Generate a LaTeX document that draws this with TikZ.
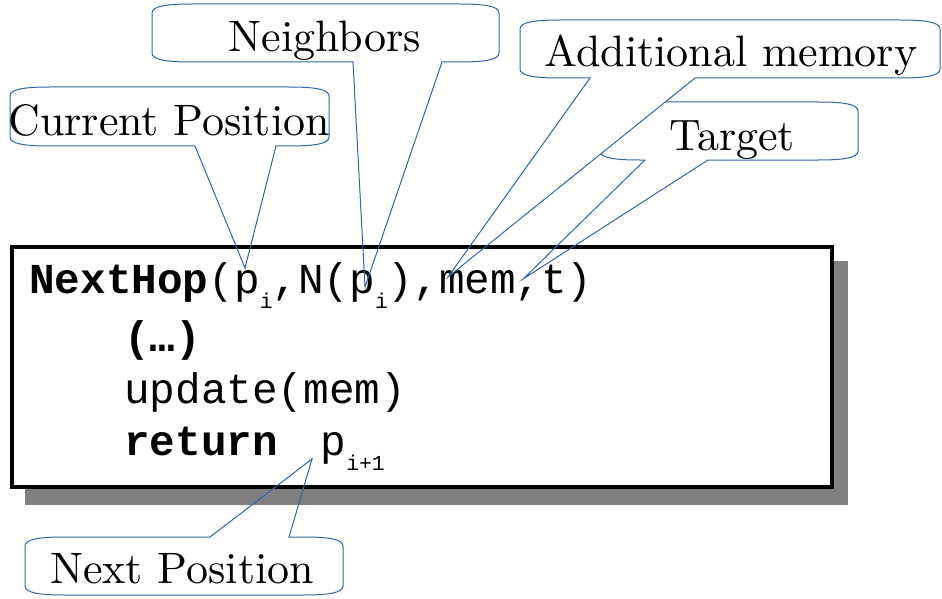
\documentclass[tikz,border=0pt]{standalone}
\usepackage{fontspec}
\setmonofont{Liberation Mono}
\newfontfamily\labelfont{lmroman10-regular.otf}
\definecolor{calloutblue}{RGB}{52,101,164}
\newcommand{\codesub}[1]{\raisebox{-7.5pt}{\fontsize{10.67}{12}\selectfont #1}}
% bubble with its pointer on the lower edge: [opts] L T R B x1 x2 tip
\newcommand{\bubbledown}[8][]{%
  \path[#1] (#2,#3+9) .. controls (#2,#3+2) and (#2+15,#3) .. (#2+40,#3) -- (#4-40,#3)
    .. controls (#4-15,#3) and (#4,#3+2) .. (#4,#3+9) -- (#4,#5-9)
    .. controls (#4,#5-2) and (#4-15,#5) .. (#4-40,#5) -- (#7,#5) -- (#8) -- (#6,#5)
    -- (#2+40,#5) .. controls (#2+15,#5) and (#2,#5-2) .. (#2,#5-9) -- cycle;}
% same, pointer on the upper edge
\newcommand{\bubbleup}[8][]{%
  \path[#1] (#2,#3+9) .. controls (#2,#3+2) and (#2+15,#3) .. (#2+40,#3) -- (#6,#3) -- (#8)
    -- (#7,#3) -- (#4-40,#3) .. controls (#4-15,#3) and (#4,#3+2) .. (#4,#3+9) -- (#4,#5-9)
    .. controls (#4,#5-2) and (#4-15,#5) .. (#4-40,#5) -- (#2+40,#5)
    .. controls (#2+15,#5) and (#2,#5-2) .. (#2,#5-9) -- cycle;}

\begin{document}
\begin{tikzpicture}[x=0.5pt,y=-0.5pt,
    codeline/.style={anchor=base west,inner sep=0pt,font=\ttfamily\fontsize{21.33}{25}\selectfont},
    bubbletext/.style={anchor=base,inner sep=0pt,font=\labelfont\fontsize{22}{26}\selectfont},
    bubble/.style={draw=calloutblue,line width=0.5pt}]
        \useasboundingbox (0,0) rectangle (942,599);

        %%BOX
        % Shadow
        \fill[gray] (25,261) rectangle (848,505);
        % Frame
        \draw[line width=2pt,fill=white] (12,247) rectangle (832,487);

        %%CODE
        \node[codeline] (hdr) at (29,293) {\textbf{NextHop}(p\codesub{i},N(p\codesub{i}),mem,t)};
        \node[codeline] (dots) at (124,351) {\textbf{(…)}};
        \node[codeline] (upd) at (124,403) {update(mem)};
        \node[codeline] (ret) at (124,455) {\textbf{return}\hspace{0.4em} p\codesub{i+1}};

        % Pointer tips
        \coordinate (curtip) at (245,268);
        \coordinate (nbrtip) at (365,287);
        \coordinate (memtip) at (448,277);
        \coordinate (tgttip) at (523,279);
        \coordinate (nxttip) at (312,459);

        %%CALLOUTS
        \bubbledown[bubble]{600}{102}{858}{160}{645}{708}{tgttip}
        % hide the left end of the target bubble
        \begin{scope}
            \clip (0,0) rectangle (942,230);
            \bubbledown[fill=white]{520}{20}{940}{78}{590}{695}{memtip}
        \end{scope}
        \bubbledown[bubble]{520}{20}{940}{78}{590}{695}{memtip}
        \bubbledown[bubble]{10}{87}{329}{146}{195}{276}{curtip}
        \bubbledown[bubble]{152}{4}{499}{62}{353}{442}{nbrtip}
        \bubbleup[bubble]{25}{537}{343}{595}{210}{289}{nxttip}

        %%LABELS
        \node[bubbletext] (cur) at (169,135) {Current Position};
        \node[bubbletext] (nbr) at (325,52) {Neighbors};
        \node[bubbletext] (mem) at (731,67) {Additional memory};
        \node[bubbletext] (tgt) at (732,150) {Target};
        \node[bubbletext] (nxt) at (182,583) {Next Position};
\end{tikzpicture}
\end{document}
